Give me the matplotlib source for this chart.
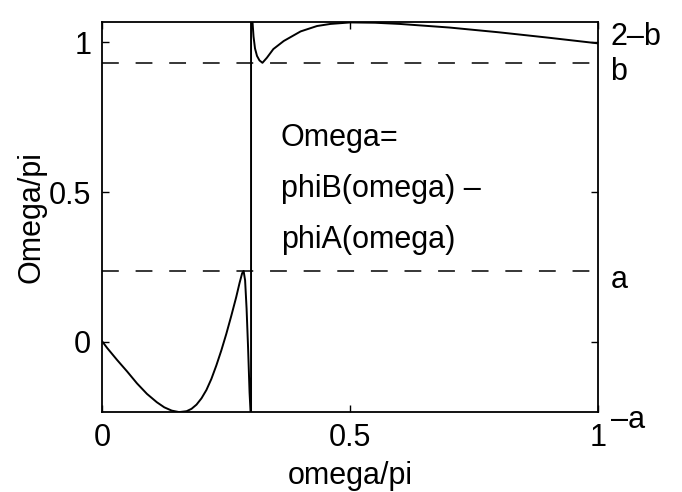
import matplotlib.pyplot as plt
import matplotlib.transforms as mtransforms
import numpy as np

plt.rcParams['font.family'] = ['Liberation Sans', 'DejaVu Sans']

# band edges of the phase difference
a = 0.235
b = 0.932

# Omega/pi = (phiB(omega) - phiA(omega))/pi, sampled along omega/pi
w = np.array([0.0, 0.01, 0.03, 0.05, 0.07, 0.09, 0.11, 0.125, 0.14, 0.155,
              0.17, 0.18, 0.19, 0.20, 0.21, 0.22, 0.23, 0.24, 0.25, 0.26,
              0.27, 0.277, 0.282, 0.285, 0.288, 0.291, 0.294, 0.297, 0.299,
              0.300,
              0.300, 0.303, 0.305, 0.308, 0.312, 0.317, 0.323, 0.332, 0.345,
              0.366, 0.40, 0.433, 0.46, 0.50, 0.55, 0.60, 0.70, 0.80, 0.90, 1.0])
om = np.array([0.0, -0.022, -0.062, -0.10, -0.14, -0.175, -0.203, -0.22, -0.231, -0.236,
               -0.233, -0.225, -0.211, -0.19, -0.162, -0.125, -0.08, -0.03, 0.025, 0.085,
               0.148, 0.197, 0.228, 0.236, 0.205, 0.11, -0.02, -0.17, -0.235,
               -0.235,
               1.068, 1.068, 1.02, 0.98, 0.955, 0.94, 0.932, 0.949, 0.978,
               1.005, 1.037, 1.055, 1.062, 1.067, 1.066, 1.062, 1.05, 1.034, 1.016, 0.997])

levels = [2 - b, b, a, -a]
level_names = ['2–b', 'b', 'a', '–a']
name_drop = [15, 9, 9, 8]  # px below each level

fig = plt.figure(figsize=(6.82, 4.92), dpi=100)
ax = fig.add_axes([0.150, 0.163, 0.727, 0.792])

ax.plot(w, om, color='black', linewidth=1.4)
ax.plot([0, 1], [b, b], color='black', linewidth=1.1, dashes=(11, 11))
ax.plot([0, 1], [a, a], color='black', linewidth=1.1, dashes=(11, 11))

ax.set_xlim(0, 1)
ax.set_ylim(-a, 2 - b)
ax.set_xticks([0, 0.5, 1])
ax.set_xticklabels(['0', '0.5', '1'])
ax.set_yticks([0, 0.5, 1])
ax.set_yticklabels(['0', '0.5', '1'])
ax.tick_params(direction='in', length=5, width=1, top=True, right=True,
               labelsize=22, pad=8)
for s in ax.spines.values():
    s.set_linewidth(1.3)

ax.set_xlabel('omega/pi', fontsize=22, labelpad=6)
ax.set_ylabel('Omega/pi', fontsize=22, labelpad=2)

for y, name, d in zip(levels, level_names, name_drop):
    shift = mtransforms.ScaledTranslation(0, -d / 100, fig.dpi_scale_trans)
    ax.text(1.025, y, name, transform=ax.get_yaxis_transform() + shift,
            fontsize=22, va='center', ha='left', clip_on=False)

for y, line in zip([0.68, 0.51, 0.34], ['Omega=', 'phiB(omega) –', 'phiA(omega)']):
    ax.text(0.36, y, line, fontsize=22, va='center', ha='left')

fig.savefig('out.png', dpi=100)
